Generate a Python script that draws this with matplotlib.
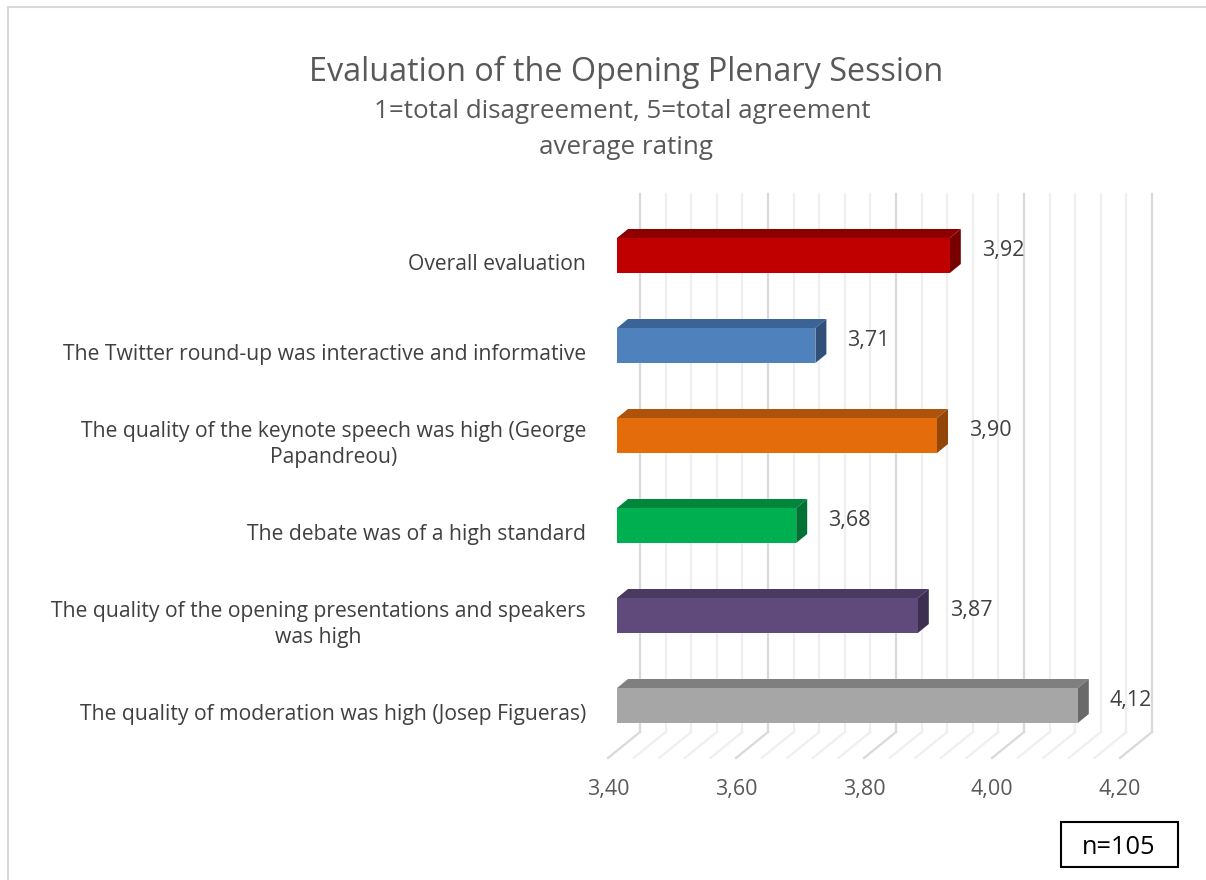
import matplotlib
matplotlib.use("Agg")
import matplotlib.pyplot as plt
from matplotlib.patches import Polygon, Rectangle
from matplotlib.lines import Line2D

plt.rcParams['font.family'] = ['Open Sans', 'DejaVu Sans']

# data, top to bottom as in the chart
categories = [
    "Overall evaluation",
    "The Twitter round-up was interactive and informative",
    "The quality of the keynote speech was high (George\nPapandreou)",
    "The debate was of a high standard",
    "The quality of the opening presentations and speakers\nwas high",
    "The quality of moderation was high (Josep Figueras)",
]
values = [3.92, 3.71, 3.90, 3.68, 3.87, 4.12]
value_labels = ["3,92", "3,71", "3,90", "3,68", "3,87", "4,12"]
tick_values = [3.40, 3.60, 3.80, 4.00, 4.20]
tick_labels = ["3,40", "3,60", "3,80", "4,00", "4,20"]

# front / top / side shades for each bar
front_cols = ["#C00000", "#4F81BD", "#E46C0A", "#00B050", "#604A7B", "#A6A6A6"]
top_cols = ["#8E0000", "#3C6395", "#AE530B", "#00873C", "#4A3960", "#7F7F7F"]
side_cols = ["#780000", "#30507A", "#924607", "#007234", "#3D2F50", "#6A6A6A"]

# pixel layout of the fake 3d box
W, H = 1206, 880
XMIN = 3.40
PX_X0 = 617          # pixel of 3.40 on the bar front plane
PX_PER_UNIT = 640
PX_Y0 = 255.5        # pixel centre of the first bar
PX_PER_CAT = 90


def dx(px):
    return px / PX_PER_UNIT


def dy(px):
    return px / PX_PER_CAT


fig = plt.figure(figsize=(W / 100, H / 100), dpi=100)
ax = fig.add_axes([0, 0, 1, 1])
ax.set_xlim(XMIN - dx(PX_X0), XMIN + dx(W - PX_X0))
ax.set_ylim(dy(H - PX_Y0), -dy(PX_Y0))
ax.axis("off")

# back wall + floor grid (major every 0.2, minor every 0.04)
wall_dx = dx(23)
floor_dx = dx(-9)
wall_bottom = dy(732 - PX_Y0)
wall_top = dy(194 - PX_Y0)
floor_front = dy(758 - PX_Y0)
for k in range(21):
    v = XMIN + 0.04 * k
    major = k % 5 == 0
    col = "#D9D9D9" if major else "#EFEFEF"
    ax.plot([v + wall_dx, v + wall_dx], [wall_bottom, wall_top], color=col, lw=1.6, zorder=1)
    ax.plot([v + floor_dx, v + wall_dx], [floor_front, wall_bottom], color=col, lw=1.6, zorder=1)

# tick labels at floor front
for v, lab in zip(tick_values, tick_labels):
    ax.text(v + floor_dx, dy(789 - PX_Y0), lab, ha="center", va="center",
            fontsize=15.5, color="#595959")

# bars
half = dy(17.5)
bdx = dx(11)
bdy = dy(9)
for i, (v, fc, tc, sc) in enumerate(zip(values, front_cols, top_cols, side_cols)):
    top = i - half
    bot = i + half
    ax.add_patch(Polygon([(XMIN, top), (v, top), (v + bdx, top - bdy), (XMIN + bdx, top - bdy)],
                         closed=True, facecolor=tc, edgecolor="none", zorder=3))
    ax.add_patch(Polygon([(v, top), (v + bdx, top - bdy), (v + bdx, bot - bdy), (v, bot)],
                         closed=True, facecolor=sc, edgecolor="none", zorder=3))
    ax.add_patch(Rectangle((XMIN, top), v - XMIN, bot - top,
                           facecolor=fc, edgecolor="none", zorder=4))
    ax.text(v + bdx + dx(21), i - dy(5), value_labels[i], ha="left", va="center",
            fontsize=15.5, color="#404040", zorder=5)
    ax.text(XMIN + dx(586 - PX_X0), i + dy(9), categories[i], ha="right", va="center",
            multialignment="center", fontsize=15.2, color="#404040", linespacing=1.3)

# titles
fig.text(626 / W, 1 - 72 / H, "Evaluation of the Opening Plenary Session",
         ha="center", va="center", fontsize=23.3, color="#595959")
fig.text(622 / W, 1 - 112 / H, "1=total disagreement, 5=total agreement",
         ha="center", va="center", fontsize=18.7, color="#595959")
fig.text(626 / W, 1 - 148 / H, "average rating",
         ha="center", va="center", fontsize=18.7, color="#595959")

# chart border (only left and top visible)
fig.add_artist(Line2D([7.5 / W, 7.5 / W], [0, 1 - 7.5 / H], transform=fig.transFigure,
                      color="#D9D9D9", lw=1.5))
fig.add_artist(Line2D([7.5 / W, 1], [1 - 7.5 / H, 1 - 7.5 / H], transform=fig.transFigure,
                      color="#D9D9D9", lw=1.5))

# sample size box
fig.add_artist(Rectangle((1061 / W, 1 - 867 / H), 117 / W, 45 / H, transform=fig.transFigure,
                         facecolor="white", edgecolor="black", lw=1.5))
fig.text(1119 / W, 1 - 847 / H, "n=105", ha="center", va="center", fontsize=18.3, color="black")

fig.savefig("out.png", dpi=100)
